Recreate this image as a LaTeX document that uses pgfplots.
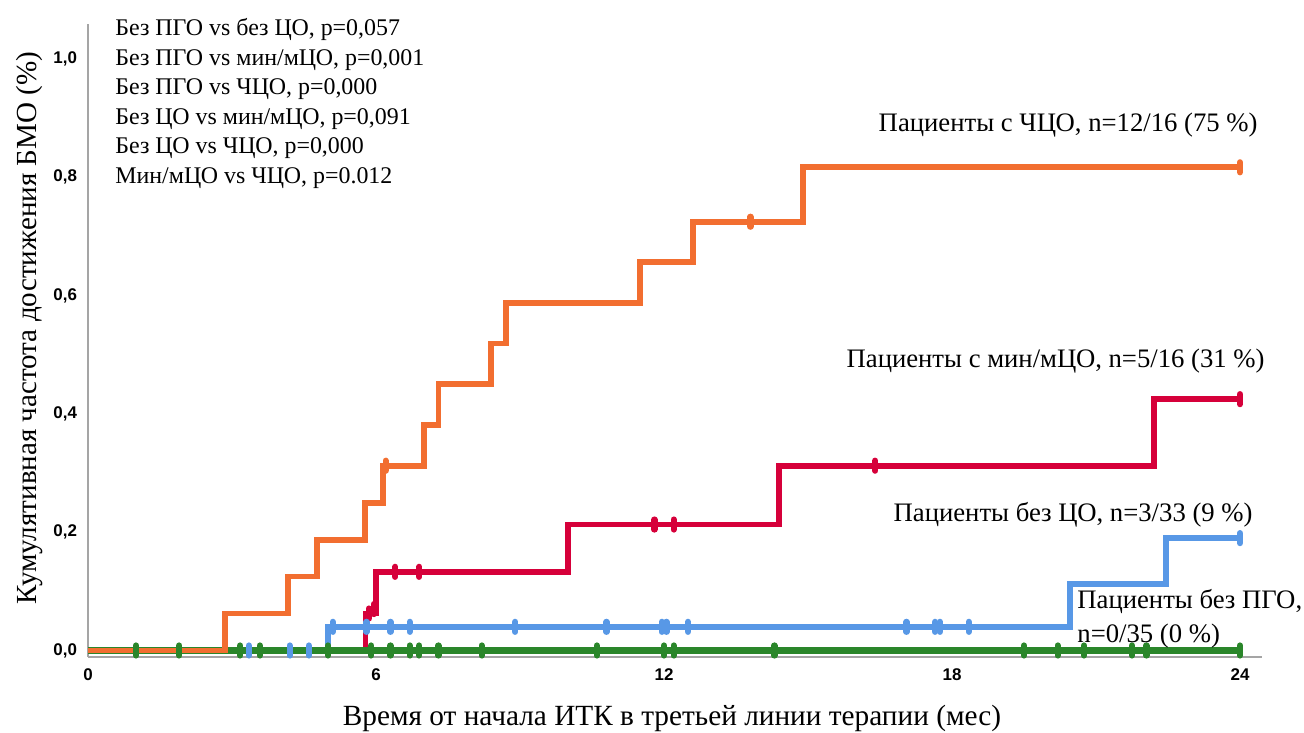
\documentclass[border=0pt]{standalone}
\usepackage{pgfplots}
\pgfplotsset{compat=1.18}
\usepackage{fontspec}
\setmainfont{Liberation Serif}
\setsansfont{Liberation Sans}

\definecolor{cOrange}{RGB}{242,110,48}
\definecolor{cRed}{RGB}{214,0,58}
\definecolor{cBlue}{RGB}{88,152,230}
\definecolor{cGreen}{RGB}{42,134,42}
\definecolor{axisgray}{RGB}{165,165,165}

\begin{document}
\begin{tikzpicture}
\path[use as bounding box] (0,0) rectangle (652bp,366.5bp);
\begin{axis}[
  at={(44bp,38bp)}, anchor=south west,
  scale only axis, width=586.8bp, height=316.7bp,
  xmin=0, xmax=24.45, ymin=-0.011, ymax=1.06,
  axis lines*=left,
  axis line style={-, draw=axisgray, line width=1.2bp},
  xtick={0,6,12,18,24}, xticklabels={0,6,12,18,24},
  ytick={0,0.2,0.4,0.6,0.8,1.0},
  yticklabels={{0,0},{0,2},{0,4},{0,6},{0,8},{1,0}},
  major tick length=0pt,
  ticklabel style={font=\sffamily\bfseries\fontsize{8.5}{10}\selectfont},
  xticklabel style={yshift=-2.5bp},
  yticklabel style={xshift=-2bp},
  clip=false,
  every axis plot/.append style={line join=miter},
]
% step curves (Kaplan-Meier, cumulative incidence)
\addplot[const plot, no marks, cBlue, line width=2.9bp] coordinates {
  (0,0) (5.0,0.04) (20.45,0.113) (22.45,0.19) (24,0.19)};
\addplot[const plot, no marks, cRed, line width=2.9bp] coordinates {
  (0,0) (5.78,0.0625) (6.0,0.133) (10.0,0.213) (14.4,0.3125) (22.2,0.425) (24,0.425)};
\addplot[const plot, no marks, cGreen, line width=3.5bp] coordinates {
  (0,0) (24,0)};
\addplot[const plot, no marks, cOrange, line width=2.9bp] coordinates {
  (0,0) (2.85,0.0625) (4.17,0.125) (4.77,0.1875) (5.77,0.25) (6.15,0.3125)
  (7.0,0.381) (7.3,0.45) (8.4,0.519) (8.7,0.588) (11.5,0.657) (12.6,0.725)
  (14.9,0.817) (24,0.817)};
% censored observations
\tikzset{cens/.style={only marks, mark=|, mark size=2.5bp,
  mark options={line width=3.1bp, line cap=round}}}
\addplot[cens, cOrange] coordinates {(6.2,0.3125) (13.8,0.725) (24,0.817)};
\addplot[cens, cRed] coordinates {(5.85,0.0625) (5.95,0.07) (6.4,0.133) (6.9,0.133)
  (11.8,0.213) (12.2,0.213) (16.4,0.3125) (24,0.425)};
\addplot[cens, cGreen] coordinates {(1.0,0) (1.9,0) (3.17,0) (3.58,0) (5.0,0)
  (5.9,0) (6.3,0) (6.7,0) (6.9,0) (7.3,0) (8.2,0) (10.6,0) (12.0,0) (12.2,0)
  (14.3,0) (19.5,0) (20.2,0) (20.75,0) (21.75,0) (22.05,0) (24,0)};
\addplot[cens, cBlue] coordinates {(3.35,0) (4.2,0) (4.6,0)
  (5.1,0.04) (5.8,0.04) (6.3,0.04) (6.7,0.04) (8.9,0.04) (10.8,0.04)
  (11.95,0.04) (12.05,0.04) (12.5,0.04) (17.05,0.04) (17.65,0.04)
  (17.75,0.04) (18.35,0.04) (24,0.19)};
\end{axis}

% axis titles
\node[font=\fontsize{14.7}{17}\selectfont] at (336bp,7.5bp)
  {Время от начала ИТК в третьей линии терапии (мес)};
\node[font=\fontsize{14.6}{17}\selectfont, rotate=90] at (15bp,202.5bp)
  {Кумулятивная частота достижения БМО (\%)};

% pairwise comparisons
\begin{scope}[every node/.style={anchor=base west, inner sep=0pt,
  font=\fontsize{12}{14}\selectfont}]
\node at (57.5bp,348.5bp) {Без ПГО vs без ЦО, p=0,057};
\node at (57.5bp,333.5bp) {Без ПГО vs мин/мЦО, p=0,001};
\node at (57.5bp,319bp)   {Без ПГО vs ЧЦО, p=0,000};
\node at (57.5bp,304bp)   {Без ЦО vs мин/мЦО, p=0,091};
\node at (57.5bp,289.5bp) {Без ЦО vs ЧЦО, p=0,000};
\node at (57.5bp,274.5bp) {Мин/мЦО vs ЧЦО, p=0.012};
\end{scope}

% curve labels
\begin{scope}[every node/.style={inner sep=0pt, font=\fontsize{13.4}{15}\selectfont}]
\node[anchor=base east] at (629bp,300.5bp) {Пациенты с ЧЦО, n=12/16 (75 \%)};
\node[anchor=base east] at (632.5bp,182.5bp) {Пациенты с мин/мЦО, n=5/16 (31 \%)};
\node[anchor=base east] at (626.5bp,105.5bp) {Пациенты без ЦО, n=3/33 (9 \%)};
\node[anchor=base west] at (538.5bp,62bp) {Пациенты без ПГО,};
\node[anchor=base west] at (538.5bp,45bp) {n=0/35 (0 \%)};
\end{scope}
\end{tikzpicture}
\end{document}
